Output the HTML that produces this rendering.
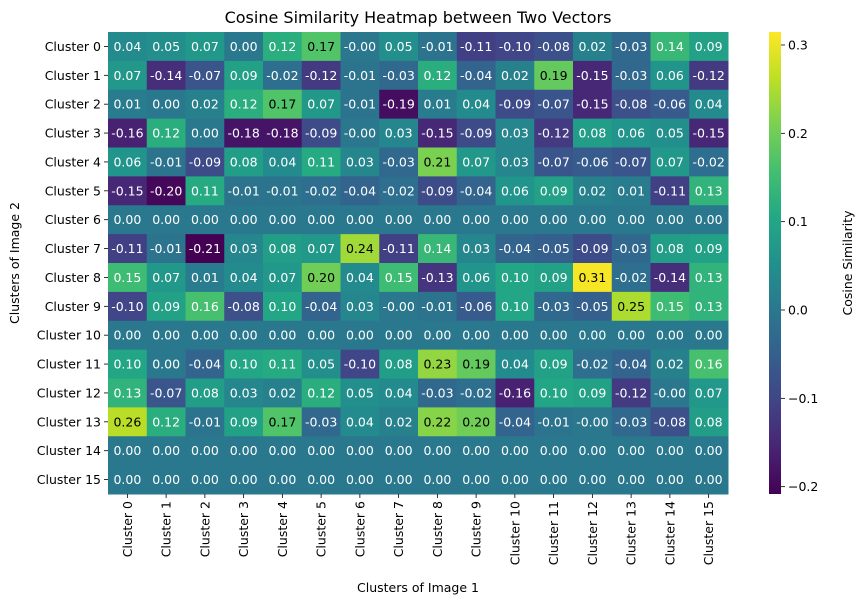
<!DOCTYPE html>
<html><head><meta charset="utf-8"><style>
body{margin:0;background:#fff;}
svg text{font-family:"DejaVu Sans","Liberation Sans",sans-serif;}
</style></head><body>
<svg id="chart" width="865" height="604" xmlns="http://www.w3.org/2000/svg">
<defs><linearGradient id="vir" x1="0" y1="1" x2="0" y2="0"></linearGradient></defs>
<text x="418" y="23" font-size="16" text-anchor="middle">Cosine Similarity Heatmap between Two Vectors</text>
<text x="418" y="592" font-size="12.5" text-anchor="middle">Clusters of Image 1</text>
<text transform="translate(19,263) rotate(-90)" font-size="12.5" text-anchor="middle">Clusters of Image 2</text>
<text transform="translate(852,263) rotate(-90)" font-size="12.5" text-anchor="middle">Cosine Similarity</text>
<g id="cells"></g><g id="xt"></g><g id="yt"></g><g id="cb"></g>
</svg>
<script>
const rowLabels=["Cluster 0","Cluster 1","Cluster 2","Cluster 3","Cluster 4","Cluster 5","Cluster 6","Cluster 7","Cluster 8","Cluster 9","Cluster 10","Cluster 11","Cluster 12","Cluster 13","Cluster 14","Cluster 15"];
const colLabels=["Cluster 0","Cluster 1","Cluster 2","Cluster 3","Cluster 4","Cluster 5","Cluster 6","Cluster 7","Cluster 8","Cluster 9","Cluster 10","Cluster 11","Cluster 12","Cluster 13","Cluster 14","Cluster 15"];
const Z=[0,0,0,0,0,0,0,0,0,0,0,0,0,0,0,0];
const values=[
[0.04,0.05,0.07,0.00,0.12,0.17,-0.001,0.05,-0.01,-0.11,-0.10,-0.08,0.02,-0.03,0.14,0.09],
[0.07,-0.14,-0.07,0.09,-0.02,-0.12,-0.01,-0.03,0.12,-0.04,0.02,0.19,-0.15,-0.03,0.06,-0.12],
[0.01,0.00,0.02,0.12,0.17,0.07,-0.01,-0.19,0.01,0.04,-0.09,-0.07,-0.15,-0.08,-0.06,0.04],
[-0.16,0.12,0.00,-0.18,-0.18,-0.09,-0.001,0.03,-0.15,-0.09,0.03,-0.12,0.08,0.06,0.05,-0.15],
[0.06,-0.01,-0.09,0.08,0.04,0.11,0.03,-0.03,0.21,0.07,0.03,-0.07,-0.06,-0.07,0.07,-0.02],
[-0.15,-0.20,0.11,-0.01,-0.01,-0.02,-0.04,-0.02,-0.09,-0.04,0.06,0.09,0.02,0.01,-0.11,0.13],
Z,
[-0.11,-0.01,-0.21,0.03,0.08,0.07,0.24,-0.11,0.14,0.03,-0.04,-0.05,-0.09,-0.03,0.08,0.09],
[0.15,0.07,0.01,0.04,0.07,0.20,0.04,0.15,-0.13,0.06,0.10,0.09,0.31,-0.02,-0.14,0.13],
[-0.10,0.09,0.16,-0.08,0.10,-0.04,0.03,-0.001,-0.01,-0.06,0.10,-0.03,-0.05,0.25,0.15,0.13],
Z,
[0.10,0.00,-0.04,0.10,0.11,0.05,-0.10,0.08,0.23,0.19,0.04,0.09,-0.02,-0.04,0.02,0.16],
[0.13,-0.07,0.08,0.03,0.02,0.12,0.05,0.04,-0.03,-0.02,-0.16,0.10,0.09,-0.12,-0.001,0.07],
[0.26,0.12,-0.01,0.09,0.17,-0.03,0.04,0.02,0.22,0.20,-0.04,-0.01,-0.001,-0.03,-0.08,0.08],
Z,Z];
const cbTicks=[-0.2,-0.1,0.0,0.1,0.2,0.3];
const vmin=-0.2083, vmax=0.3147;
const L=108,R=728,T=32,B=494;
const NS="http://www.w3.org/2000/svg";
const vir=["#440154","#482475","#414487","#355f8d","#2a788e","#21918c","#22a884","#44bf70","#7ad151","#bddf26","#fde725"];
function hex(h){return [1,3,5].map(i=>parseInt(h.substr(i,2),16));}
function cmap(t){t=Math.max(0,Math.min(1,t));const p=t*10,i=Math.min(9,Math.floor(p)),f=p-i;const a=hex(vir[i]),b=hex(vir[i+1]);return a.map((v,k)=>Math.round(v+(b[k]-v)*f));}
function lum(c){const s=c.map(v=>{v/=255;return v<=0.03928?v/12.92:Math.pow((v+0.055)/1.055,2.4);});return 0.2126*s[0]+0.7152*s[1]+0.0722*s[2];}
const cw=(R-L)/colLabels.length, ch=(B-T)/rowLabels.length;
const xs=j=>L+j*cw, ys=i=>T+i*ch;
function mk(tag,attrs,parent){const e=document.createElementNS(NS,tag);for(const k in attrs)e.setAttribute(k,attrs[k]);parent.appendChild(e);return e;}
const cells=document.getElementById('cells');
values.forEach((row,i)=>row.forEach((v,j)=>{
 const c=cmap((v-vmin)/(vmax-vmin));
 const r=mk('rect',{x:xs(j),y:ys(i),width:cw+0.5,height:ch+0.5,fill:`rgb(${c})`},cells);
 
 
 const t=mk('text',{x:xs(j)+cw/2,y:ys(i)+ch/2+4.5,'font-size':12.5,'text-anchor':'middle',fill:lum(c)>0.408?'#000':'#fff'},cells);
 
 
 t.textContent=v.toFixed(2);
}));
const yt=document.getElementById('yt');
rowLabels.forEach((s,i)=>{const y=ys(i)+ch/2;
 mk('line',{x1:L-4,x2:L,y1:y,y2:y,stroke:'#000','stroke-width':0.8},yt);
 const t=mk('text',{x:L-7,y:y+4.5,'font-size':12.5,'text-anchor':'end'},yt);
 
 
 t.textContent=s;});
const xt=document.getElementById('xt');
colLabels.forEach((s,j)=>{const x=xs(j)+cw/2;
 mk('line',{x1:x,x2:x,y1:B,y2:B+4,stroke:'#000','stroke-width':0.8},xt);
 const t=mk('text',{transform:`translate(${x+4.5},${B+7}) rotate(-90)`,'font-size':12.5,'text-anchor':'end'},xt);
 
 
 t.textContent=s;});
const g=document.getElementById('vir');
vir.forEach((c,k)=>mk('stop',{offset:k/10,'stop-color':c},g));
const cb=document.getElementById('cb');
const cbx=769,cbw=12;
const cr=mk('rect',{x:cbx,y:T,width:cbw,height:B-T,fill:'url(#vir)'},cb);


const cy=v=>B-(v-vmin)/(vmax-vmin)*(B-T);
cbTicks.forEach(v=>{const y=cy(v);
 mk('line',{x1:cbx+cbw,x2:cbx+cbw+4,y1:y,y2:y,stroke:'#000','stroke-width':0.8},cb);
 const t=mk('text',{x:cbx+cbw+7,y:y+4.5,'font-size':12.5},cb);
 
 
 t.textContent=(v<0?'\u2212':'')+Math.abs(v).toFixed(1);});
</script>
</body></html>
